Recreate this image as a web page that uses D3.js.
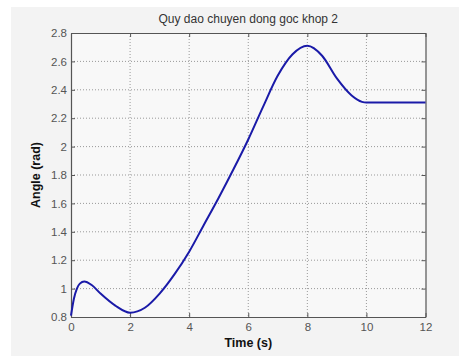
<!doctype html>
<html>
  <head>
    <meta charset="utf-8">
    <title>Quy dao chuyen dong goc khop 2</title>
    <script src="https://cdnjs.cloudflare.com/ajax/libs/d3/7.8.5/d3.min.js"></script>
    <style>
      body { margin: 0; background: #fff; }
      svg text { font-family: "Liberation Sans", Arial, sans-serif; }
    </style>
  </head>
  <body>
    <div id="chart"></div>
    <script>
      // values
      const time  = [0, 0.1, 0.2, 0.3, 0.45, 0.7, 1.0, 1.5, 2.0, 2.5, 3.0, 3.5, 4.0, 4.5, 5.0, 5.5, 6.0, 6.5, 7.0, 7.5, 8.0, 8.5, 9.0, 9.5, 9.85, 10, 12];
      const angle = [0.81, 0.93, 1.00, 1.035, 1.05, 1.025, 0.965, 0.88, 0.83, 0.865, 0.965, 1.10, 1.26, 1.45, 1.64, 1.84, 2.05, 2.28, 2.50, 2.65, 2.71, 2.64, 2.48, 2.36, 2.315, 2.31, 2.31];
      const xTicks = [0, 2, 4, 6, 8, 10, 12];
      const yTicks = [0.8, 1, 1.2, 1.4, 1.6, 1.8, 2, 2.2, 2.4, 2.6, 2.8];
      const title = 'Quy dao chuyen dong goc khop 2';

      const W = 459, H = 356;
      const pLeft = 71, pRight = 425.5, pTop = 33, pBottom = 317;

      const svg = d3.select('#chart').append('svg')
        .attr('width', W).attr('height', H);

      // figure background
      svg.append('rect').attr('x', 11).attr('y', 7)
        .attr('width', W - 11).attr('height', H - 7).attr('fill', '#f3f3f3');
      svg.append('rect').attr('x', pLeft).attr('y', pTop)
        .attr('width', pRight - pLeft).attr('height', pBottom - pTop).attr('fill', '#f8f8f8');

      const x = d3.scaleLinear().domain([0, 12]).range([pLeft, pRight]);
      const y = d3.scaleLinear().domain([0.8, 2.8]).range([pBottom, pTop]);

      // grid
      svg.append('g').selectAll('line').data(xTicks.slice(1, -1)).join('line')
        .attr('x1', d => x(d)).attr('x2', d => x(d)).attr('y1', pTop).attr('y2', pBottom)
        .attr('stroke', '#999').attr('stroke-width', 1).attr('stroke-dasharray', '1,2');
      svg.append('g').selectAll('line').data(yTicks.slice(1, -1)).join('line')
        .attr('y1', d => y(d)).attr('y2', d => y(d)).attr('x1', pLeft).attr('x2', pRight)
        .attr('stroke', '#999').attr('stroke-width', 1).attr('stroke-dasharray', '1,2');

      // axes with inward ticks
      const fmt = d => d3.format('')(d);
      svg.append('g').attr('transform', `translate(0,${pBottom})`)
        .call(d3.axisBottom(x).tickValues(xTicks).tickSizeInner(-4).tickSizeOuter(0).tickPadding(6).tickFormat(fmt));
      svg.append('g').attr('transform', `translate(${pLeft},0)`)
        .call(d3.axisLeft(y).tickValues(yTicks).tickSizeInner(-4).tickSizeOuter(0).tickPadding(4).tickFormat(fmt));
      svg.append('g').attr('transform', `translate(0,${pTop})`)
        .call(d3.axisTop(x).tickValues(xTicks).tickSizeInner(-4).tickSizeOuter(0).tickFormat(''));
      svg.append('g').attr('transform', `translate(${pRight},0)`)
        .call(d3.axisRight(y).tickValues(yTicks).tickSizeInner(-4).tickSizeOuter(0).tickFormat(''));

      svg.selectAll('.domain').attr('stroke', '#555').attr('stroke-width', 1.2);
      svg.selectAll('.tick line').attr('stroke', '#555');
      svg.selectAll('.tick text').attr('fill', '#555').style('font-size', '11.5px');

      // curve
      const data = time.map((t, i) => ({ t, a: angle[i] }));
      svg.append('path').datum(data)
        .attr('fill', 'none').attr('stroke', '#1a1aa8').attr('stroke-width', 2)
        .attr('d', d3.line().x(d => x(d.t)).y(d => y(d.a)).curve(d3.curveMonotoneX));

      // labels
      svg.append('text').attr('x', (pLeft + pRight) / 2).attr('y', 23)
        .attr('text-anchor', 'middle').attr('fill', '#333').style('font-size', '12px').text(title);
      svg.append('text').attr('x', (pLeft + pRight) / 2).attr('y', 347)
        .attr('text-anchor', 'middle').attr('fill', '#111').style('font-size', '12.5px').style('font-weight', 'bold').text('Time (s)');
      svg.append('text').attr('transform', `translate(40,${(pTop + pBottom) / 2}) rotate(-90)`)
        .attr('text-anchor', 'middle').attr('fill', '#111').style('font-size', '12.5px').style('font-weight', 'bold').text('Angle (rad)');
    </script>
  </body>
</html>
